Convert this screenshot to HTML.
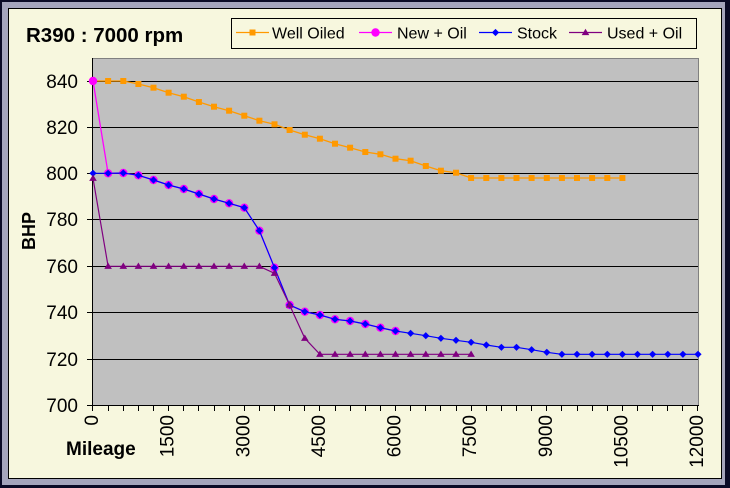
<!DOCTYPE html>
<html><head><meta charset="utf-8"><style>
html,body{margin:0;padding:0;background:#0a0a26;}
svg{display:block;}
text{font-family:"Liberation Sans",Arial,sans-serif;fill:#000;}
</style></head><body>
<svg width="730" height="488" viewBox="0 0 730 488" xmlns="http://www.w3.org/2000/svg" xmlns:xlink="http://www.w3.org/1999/xlink">
<defs>
<rect id="sq" x="-3" y="-3" width="6" height="6" fill="#ff9900"/>
<circle id="ci" r="4.2" fill="#ff00ff"/>
<path id="di" d="M0 -3.6L3.6 0L0 3.6L-3.6 0Z" fill="#0000ff"/>
<path id="tr" d="M0 -3.8L3.8 2.6L-3.8 2.6Z" fill="#800080"/>
</defs>
<rect x="0" y="0" width="730" height="488" fill="#0a0a26"/>
<rect x="2" y="2" width="723" height="483" fill="#a4a4bc"/>
<rect x="8.5" y="8.5" width="713" height="470" fill="#f7f7de" stroke="#000" stroke-width="1"/>
<rect x="93" y="58" width="605" height="347" fill="#c0c0c0"/>
<g shape-rendering="crispEdges" stroke-width="1">
<path d="M93 58.5H698.5V405" fill="none" stroke="#808080"/>
<path stroke="#000" fill="none" d="M93 81.5H698M93 127.5H698M93 173.5H698M93 219.5H698M93 266.5H698M93 312.5H698M93 359.5H698M92.5 58V406M87 405.5H699M87 81.5H93M87 127.5H93M87 173.5H93M87 219.5H93M87 266.5H93M87 312.5H93M87 359.5H93"/>
<path stroke="#000" d="M92.5 405V411M108.5 405V411M123.5 405V411M138.5 405V411M153.5 405V411M168.5 405V411M183.5 405V411M198.5 405V411M214.5 405V411M229.5 405V411M244.5 405V411M259.5 405V411M274.5 405V411M289.5 405V411M304.5 405V411M319.5 405V411M335.5 405V411M350.5 405V411M365.5 405V411M380.5 405V411M395.5 405V411M410.5 405V411M425.5 405V411M440.5 405V411M456.5 405V411M471.5 405V411M486.5 405V411M501.5 405V411M516.5 405V411M531.5 405V411M546.5 405V411M561.5 405V411M577.5 405V411M592.5 405V411M607.5 405V411M622.5 405V411M637.5 405V411M652.5 405V411M667.5 405V411M682.5 405V411M697.5 405V411"/>
</g>

<polyline fill="none" stroke="#ff9900" stroke-width="1.3" points="93,81 108.1,81 123.3,81 138.4,84 153.5,87.7 168.6,92.7 183.8,96.7 198.9,102 214,106.7 229.1,110.7 244.3,115.7 259.4,120.7 274.5,124.3 289.6,130 304.8,134.7 319.9,138.7 335,143.7 350.1,147.7 365.3,152 380.4,154.3 395.5,158.7 410.6,160.7 425.8,166 440.9,170.7 456,172.7 471.1,178 622.4,178"/>
<use xlink:href="#sq" x="93" y="81"/><use xlink:href="#sq" x="108.1" y="81"/><use xlink:href="#sq" x="123.3" y="81"/><use xlink:href="#sq" x="138.4" y="84"/><use xlink:href="#sq" x="153.5" y="87.7"/><use xlink:href="#sq" x="168.6" y="92.7"/><use xlink:href="#sq" x="183.8" y="96.7"/><use xlink:href="#sq" x="198.9" y="102"/><use xlink:href="#sq" x="214" y="106.7"/><use xlink:href="#sq" x="229.1" y="110.7"/><use xlink:href="#sq" x="244.3" y="115.7"/><use xlink:href="#sq" x="259.4" y="120.7"/><use xlink:href="#sq" x="274.5" y="124.3"/><use xlink:href="#sq" x="289.6" y="130"/><use xlink:href="#sq" x="304.8" y="134.7"/><use xlink:href="#sq" x="319.9" y="138.7"/><use xlink:href="#sq" x="335" y="143.7"/><use xlink:href="#sq" x="350.1" y="147.7"/><use xlink:href="#sq" x="365.3" y="152"/><use xlink:href="#sq" x="380.4" y="154.3"/><use xlink:href="#sq" x="395.5" y="158.7"/><use xlink:href="#sq" x="410.6" y="160.7"/><use xlink:href="#sq" x="425.8" y="166"/><use xlink:href="#sq" x="440.9" y="170.7"/><use xlink:href="#sq" x="456" y="172.7"/><use xlink:href="#sq" x="471.1" y="178"/><use xlink:href="#sq" x="486.3" y="178"/><use xlink:href="#sq" x="501.4" y="178"/><use xlink:href="#sq" x="516.5" y="178"/><use xlink:href="#sq" x="531.6" y="178"/><use xlink:href="#sq" x="546.8" y="178"/><use xlink:href="#sq" x="561.9" y="178"/><use xlink:href="#sq" x="577" y="178"/><use xlink:href="#sq" x="592.1" y="178"/><use xlink:href="#sq" x="607.3" y="178"/><use xlink:href="#sq" x="622.4" y="178"/>

<polyline fill="none" stroke="#ff00ff" stroke-width="1.3" points="93,81 108.1,173.3 123.3,173 138.4,175.3 153.5,180 168.6,185 183.8,189 198.9,194 214,199 229.1,203.3 244.3,207.7 259.4,230.7 274.5,267.7 289.6,305 304.8,311.7 319.9,315 335,319.3 350.1,321 365.3,324 380.4,327.7 395.5,331"/>
<use xlink:href="#ci" x="93" y="81"/><use xlink:href="#ci" x="108.1" y="173.3"/><use xlink:href="#ci" x="123.3" y="173"/><use xlink:href="#ci" x="138.4" y="175.3"/><use xlink:href="#ci" x="153.5" y="180"/><use xlink:href="#ci" x="168.6" y="185"/><use xlink:href="#ci" x="183.8" y="189"/><use xlink:href="#ci" x="198.9" y="194"/><use xlink:href="#ci" x="214" y="199"/><use xlink:href="#ci" x="229.1" y="203.3"/><use xlink:href="#ci" x="244.3" y="207.7"/><use xlink:href="#ci" x="259.4" y="230.7"/><use xlink:href="#ci" x="274.5" y="267.7"/><use xlink:href="#ci" x="289.6" y="305"/><use xlink:href="#ci" x="304.8" y="311.7"/><use xlink:href="#ci" x="319.9" y="315"/><use xlink:href="#ci" x="335" y="319.3"/><use xlink:href="#ci" x="350.1" y="321"/><use xlink:href="#ci" x="365.3" y="324"/><use xlink:href="#ci" x="380.4" y="327.7"/><use xlink:href="#ci" x="395.5" y="331"/>

<polyline fill="none" stroke="#0000ff" stroke-width="1.2" points="93,173.3 108.1,173.3 123.3,173 138.4,175.3 153.5,180 168.6,185 183.8,189 198.9,194 214,199 229.1,203.3 244.3,207.7 259.4,230.7 274.5,267.7 289.6,305 304.8,311.7 319.9,315 335,319.3 350.1,321 365.3,324 380.4,327.7 395.5,331 410.6,333.3 425.8,335.7 440.9,338.3 456,340.3 471.1,342.3 486.3,345 501.4,347.3 516.5,347.3 531.6,349.7 546.8,352.3 561.9,354.3 698,354.3"/>
<use xlink:href="#di" x="93" y="173.3"/><use xlink:href="#di" x="108.1" y="173.3"/><use xlink:href="#di" x="123.3" y="173"/><use xlink:href="#di" x="138.4" y="175.3"/><use xlink:href="#di" x="153.5" y="180"/><use xlink:href="#di" x="168.6" y="185"/><use xlink:href="#di" x="183.8" y="189"/><use xlink:href="#di" x="198.9" y="194"/><use xlink:href="#di" x="214" y="199"/><use xlink:href="#di" x="229.1" y="203.3"/><use xlink:href="#di" x="244.3" y="207.7"/><use xlink:href="#di" x="259.4" y="230.7"/><use xlink:href="#di" x="274.5" y="267.7"/><use xlink:href="#di" x="289.6" y="305"/><use xlink:href="#di" x="304.8" y="311.7"/><use xlink:href="#di" x="319.9" y="315"/><use xlink:href="#di" x="335" y="319.3"/><use xlink:href="#di" x="350.1" y="321"/><use xlink:href="#di" x="365.3" y="324"/><use xlink:href="#di" x="380.4" y="327.7"/><use xlink:href="#di" x="395.5" y="331"/><use xlink:href="#di" x="410.6" y="333.3"/><use xlink:href="#di" x="425.8" y="335.7"/><use xlink:href="#di" x="440.9" y="338.3"/><use xlink:href="#di" x="456" y="340.3"/><use xlink:href="#di" x="471.1" y="342.3"/><use xlink:href="#di" x="486.3" y="345"/><use xlink:href="#di" x="501.4" y="347.3"/><use xlink:href="#di" x="516.5" y="347.3"/><use xlink:href="#di" x="531.6" y="349.7"/><use xlink:href="#di" x="546.8" y="352.3"/><use xlink:href="#di" x="561.9" y="354.3"/><use xlink:href="#di" x="577" y="354.3"/><use xlink:href="#di" x="592.1" y="354.3"/><use xlink:href="#di" x="607.3" y="354.3"/><use xlink:href="#di" x="622.4" y="354.3"/><use xlink:href="#di" x="637.5" y="354.3"/><use xlink:href="#di" x="652.6" y="354.3"/><use xlink:href="#di" x="667.8" y="354.3"/><use xlink:href="#di" x="682.9" y="354.3"/><use xlink:href="#di" x="698" y="354.3"/>

<polyline fill="none" stroke="#800080" stroke-width="1.2" points="93,178.3 108.1,266.3 259.4,266.3 274.5,273.3 289.6,305 304.8,338.3 319.9,354.3 471.1,354.3"/>
<use xlink:href="#tr" x="93" y="178.3"/><use xlink:href="#tr" x="108.1" y="266.3"/><use xlink:href="#tr" x="123.3" y="266.3"/><use xlink:href="#tr" x="138.4" y="266.3"/><use xlink:href="#tr" x="153.5" y="266.3"/><use xlink:href="#tr" x="168.6" y="266.3"/><use xlink:href="#tr" x="183.8" y="266.3"/><use xlink:href="#tr" x="198.9" y="266.3"/><use xlink:href="#tr" x="214" y="266.3"/><use xlink:href="#tr" x="229.1" y="266.3"/><use xlink:href="#tr" x="244.3" y="266.3"/><use xlink:href="#tr" x="259.4" y="266.3"/><use xlink:href="#tr" x="274.5" y="273.3"/><use xlink:href="#tr" x="289.6" y="305"/><use xlink:href="#tr" x="304.8" y="338.3"/><use xlink:href="#tr" x="319.9" y="354.3"/><use xlink:href="#tr" x="335" y="354.3"/><use xlink:href="#tr" x="350.1" y="354.3"/><use xlink:href="#tr" x="365.3" y="354.3"/><use xlink:href="#tr" x="380.4" y="354.3"/><use xlink:href="#tr" x="395.5" y="354.3"/><use xlink:href="#tr" x="410.6" y="354.3"/><use xlink:href="#tr" x="425.8" y="354.3"/><use xlink:href="#tr" x="440.9" y="354.3"/><use xlink:href="#tr" x="456" y="354.3"/><use xlink:href="#tr" x="471.1" y="354.3"/>

<text x="26" y="42" font-size="20.5" font-weight="bold">R390 : 7000 rpm</text>

<rect x="231.5" y="18.5" width="465" height="30" fill="#f7f7de" stroke="#000" stroke-width="1"/>
<line x1="236" y1="32.5" x2="269" y2="32.5" stroke="#ff9900" stroke-width="1.3"/>
<use xlink:href="#sq" x="252.5" y="32.5"/>
<text x="272" y="38.3" font-size="16">Well Oiled</text>
<line x1="359" y1="32.5" x2="392" y2="32.5" stroke="#ff00ff" stroke-width="1.3"/>
<use xlink:href="#ci" x="375.5" y="32.5"/>
<text x="397" y="38.3" font-size="16">New + Oil</text>
<line x1="479" y1="32.5" x2="512" y2="32.5" stroke="#0000ff" stroke-width="1.3"/>
<use xlink:href="#di" x="495.5" y="32.5"/>
<text x="517" y="38.3" font-size="16">Stock</text>
<line x1="569" y1="32.5" x2="602" y2="32.5" stroke="#800080" stroke-width="1.3"/>
<use xlink:href="#tr" x="585.5" y="32.5"/>
<text x="607" y="38.3" font-size="16">Used + Oil</text>

<g font-size="19" text-anchor="end">
<text x="78" y="88">840</text>
<text x="78" y="134">820</text>
<text x="78" y="180">800</text>
<text x="78" y="226">780</text>
<text x="78" y="273">760</text>
<text x="78" y="319">740</text>
<text x="78" y="366">720</text>
<text x="78" y="412">700</text>
</g>
<text transform="translate(35,231) rotate(-90)" font-size="18" font-weight="bold" text-anchor="middle">BHP</text>

<g font-size="19" text-anchor="end">
<text transform="translate(98,415) rotate(-90)">0</text>
<text transform="translate(173.6,415) rotate(-90)">1500</text>
<text transform="translate(249.3,415) rotate(-90)">3000</text>
<text transform="translate(324.9,415) rotate(-90)">4500</text>
<text transform="translate(400.5,415) rotate(-90)">6000</text>
<text transform="translate(476.1,415) rotate(-90)">7500</text>
<text transform="translate(551.8,415) rotate(-90)">9000</text>
<text transform="translate(627.4,415) rotate(-90)">10500</text>
<text transform="translate(703,415) rotate(-90)">12000</text>
</g>
<text x="66" y="455" font-size="19" font-weight="bold">Mileage</text>
</svg>
</body></html>
